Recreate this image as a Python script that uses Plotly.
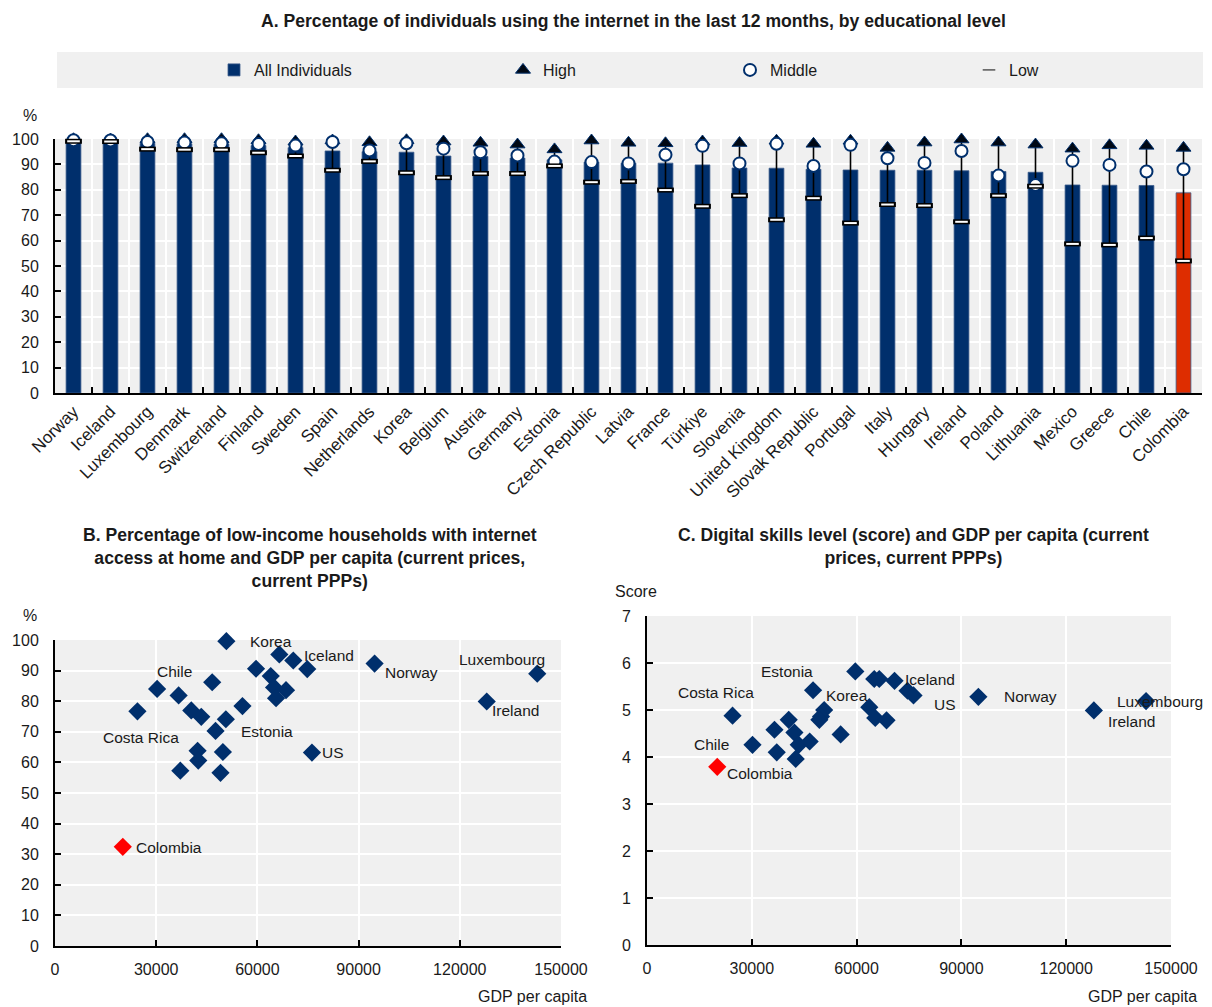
import plotly.graph_objects as go

# ---------------- Data ----------------
countries = ["Norway", "Iceland", "Luxembourg", "Denmark", "Switzerland", "Finland", "Sweden", "Spain",
             "Netherlands", "Korea", "Belgium", "Austria", "Germany", "Estonia", "Czech Republic", "Latvia",
             "France", "Türkiye", "Slovenia", "United Kingdom", "Slovak Republic", "Portugal", "Italy",
             "Hungary", "Ireland", "Poland", "Lithuania", "Mexico", "Greece", "Chile", "Colombia"]
all_individuals = [99.6, 99.3, 98.3, 98.1, 98.0, 97.4, 96.6, 95.3, 95.0, 94.8, 93.3, 93.1, 92.5, 91.8, 90.9,
                   90.5, 90.5, 89.8, 88.6, 88.5, 88.1, 87.8, 87.7, 87.7, 87.5, 87.2, 86.9, 81.9, 81.8, 81.7, 78.8]
high = [99.9, 99.8, 99.9, 99.9, 99.9, 99.5, 99.0, 99.4, 98.7, 99.5, 99.0, 98.5, 97.8, 95.9, 99.4,
        98.5, 98.3, 99.0, 98.4, 99.3, 98.1, 99.3, 96.5, 98.6, 99.8, 98.6, 97.8, 96.2, 97.5, 97.3, 96.5]
middle = [99.5, 99.4, 98.8, 98.6, 98.3, 98.0, 97.4, 98.8, 95.5, 98.3, 96.2, 94.8, 93.5, 91.1, 90.9,
          90.4, 93.8, 97.3, 90.4, 98.1, 89.4, 97.7, 92.4, 90.6, 95.3, 85.6, 81.9, 91.4, 89.8, 87.2, 88.1]
low = [99.1, 99.0, 96.0, 95.8, 95.8, 94.6, 93.3, 87.7, 91.2, 86.7, 84.8, 86.4, 86.4, 89.4, 83.0,
       83.3, 79.9, 73.5, 77.7, 68.2, 76.7, 66.9, 74.2, 73.8, 67.4, 77.7, 81.4, 58.7, 58.3, 61.0, 52.0]

b_gdp = [50800, 66500, 70640, 59600, 74780, 63960, 64940, 68480, 65530, 30270, 36650, 46600, 24440, 40400,
         43360, 50650, 55570, 47590, 42270, 49770, 42470, 37150, 49060, 20100, 94740, 142960, 127980, 76170]
b_internet = [99.6, 95.3, 93.3, 90.6, 90.5, 88.2, 84.5, 83.6, 81.0, 84.0, 81.9, 86.2, 76.7, 77.0,
              74.9, 74.1, 78.4, 70.3, 63.8, 63.4, 60.6, 57.3, 56.6, 32.4, 92.3, 89.0, 79.9, 63.2]
b_names = ["Korea", "", "Iceland", "", "", "", "", "", "", "Chile", "", "", "Costa Rica", "",
           "", "", "", "Estonia", "", "", "", "", "", "Colombia", "Norway", "Luxembourg", "Ireland", "US"]

c_gdp = [59630, 65050, 66490, 70860, 74570, 76290, 47540, 50720, 49830, 49340, 63630, 65340, 68570, 24490,
         40570, 36490, 42200, 55430, 43430, 46570, 30200, 37140, 42570, 20110, 94860, 127920, 142860]
c_score = [5.82, 5.66, 5.66, 5.62, 5.41, 5.31, 5.42, 5.00, 4.86, 4.79, 5.06, 4.83, 4.78, 4.88,
           4.79, 4.58, 4.52, 4.48, 4.26, 4.33, 4.26, 4.10, 3.96, 3.79, 5.28, 4.99, 5.19]
c_names = ["", "", "", "Iceland", "", "US", "Estonia", "Korea", "", "", "", "", "", "Costa Rica",
           "", "", "", "", "", "", "Chile", "", "", "Colombia", "Norway", "Ireland", "Luxembourg"]

y_ticks_a = list(range(0, 101, 10))
x_ticks_gdp = [0, 30000, 60000, 90000, 120000, 150000]
y_ticks_c = list(range(0, 8))

# ---------------- Styles ----------------
FONT = "Liberation Sans, Arial, sans-serif"
NAVY = "#002F6C"
RED_BAR = "#DE2D00"
RED_PT = "#FF0000"
BG = "#F0F0F0"
TXT = "#1a1a1a"
# the page body adds an 8px margin; the figure is sized so the screen matches 1212x1007
OFF = 8
W, H = 1212 - OFF, 1007 - OFF

def px_x(p):
    return (p - OFF) / W

def px_y(p):
    return 1 - (p - OFF) / H

b_label_style = {
    "Korea": ("left", 22, 0), "Iceland": ("left", 9, 5), "Chile": ("left", -2, 17),
    "Costa Rica": ("left", -36, -26), "Estonia": ("left", 23, -1), "Colombia": ("left", 11, -1),
    "Norway": ("left", 8, -9), "Luxembourg": ("right", 10, 14), "Ireland": ("left", 3, -9),
    "US": ("left", 8, 0),
}
c_label_style = {
    "Estonia": ("right", 2, 19), "Korea": ("left", 0, 15), "Iceland": ("left", 8, 1),
    "US": ("left", 18, -9), "Costa Rica": ("right", 23, 23), "Chile": ("right", -22, 0),
    "Colombia": ("left", 8, -7), "Norway": ("left", 24, 0), "Ireland": ("left", 12, -11),
    "Luxembourg": ("right", 59, 0),
}

fig = go.Figure()

# ---------------- Panel A ----------------
bar_colors = [RED_BAR if c == "Colombia" else NAVY for c in countries]
fig.add_trace(go.Bar(x=countries, y=all_individuals, name="All Individuals",
                     marker=dict(color=bar_colors, line=dict(color="#3a5a8a", width=0.8)),
                     width=0.4, legend="legend", xaxis="x", yaxis="y"))

# whiskers low -> high
wx, wy = [], []
for c, lo, hi in zip(countries, low, high):
    wx += [c, c, None]
    wy += [lo, hi, None]
fig.add_trace(go.Scatter(x=wx, y=wy, mode="lines", line=dict(color="black", width=1.6),
                         showlegend=False, cliponaxis=False, hoverinfo="skip", xaxis="x", yaxis="y"))

fig.add_trace(go.Scatter(x=countries, y=high, mode="markers", name="High",
                         marker=dict(symbol="triangle-up", size=13, color="#000814",
                                     line=dict(color=NAVY, width=1)),
                         cliponaxis=False, legend="legend2", xaxis="x", yaxis="y"))
fig.add_trace(go.Scatter(x=countries, y=middle, mode="markers", name="Middle",
                         marker=dict(symbol="circle", size=12, color="white",
                                     line=dict(color=NAVY, width=2)),
                         cliponaxis=False, legend="legend3", xaxis="x", yaxis="y"))
fig.add_trace(go.Scatter(x=countries, y=low, mode="markers", showlegend=False,
                         marker=dict(symbol="line-ew", size=12, line=dict(color="black", width=5)),
                         cliponaxis=False, xaxis="x", yaxis="y"))
fig.add_trace(go.Scatter(x=countries, y=low, mode="markers", showlegend=False,
                         marker=dict(symbol="line-ew", size=9, line=dict(color="white", width=2)),
                         cliponaxis=False, xaxis="x", yaxis="y"))
fig.add_trace(go.Scatter(x=[None], y=[None], mode="markers", name="Low",
                         marker=dict(symbol="line-ew", size=9, line=dict(color="#555555", width=1.5)),
                         legend="legend4", xaxis="x", yaxis="y"))

# ---------------- Panel B ----------------
fig.add_trace(go.Scatter(x=b_gdp, y=b_internet, mode="markers", showlegend=False,
                         marker=dict(symbol="diamond", size=14,
                                     color=[RED_PT if n == "Colombia" else NAVY for n in b_names]),
                         cliponaxis=False, xaxis="x2", yaxis="y2"))
# ---------------- Panel C ----------------
fig.add_trace(go.Scatter(x=c_gdp, y=c_score, mode="markers", showlegend=False,
                         marker=dict(symbol="diamond", size=14,
                                     color=[RED_PT if n == "Colombia" else NAVY for n in c_names]),
                         cliponaxis=False, xaxis="x3", yaxis="y3"))

annotations = []
for xs, ys, names, style, xr, yr in [(b_gdp, b_internet, b_names, b_label_style, "x2", "y2"),
                                     (c_gdp, c_score, c_names, c_label_style, "x3", "y3")]:
    for xv, yv, n in zip(xs, ys, names):
        if not n:
            continue
        anc, dx, dy = style[n]
        annotations.append(dict(x=xv, y=yv, xref=xr, yref=yr, text=n, showarrow=False,
                                xanchor=anc, yanchor="middle", xshift=dx, yshift=dy,
                                font=dict(size=15.5, color=TXT)))

title_font = dict(size=17.6, color=TXT, family=FONT)
annotations += [
    dict(text="<b>A. Percentage of individuals using the internet in the last 12 months, by educational level</b>",
         x=px_x(633), y=px_y(21), xref="paper", yref="paper", showarrow=False,
         xanchor="center", yanchor="middle", font=title_font),
    dict(text="<b>B. Percentage of low-income households with internet<br>access at home and GDP per capita (current prices,<br>current PPPs)</b>",
         x=px_x(310), y=px_y(558), xref="paper", yref="paper", showarrow=False,
         xanchor="center", yanchor="middle", font=title_font),
    dict(text="<b>C. Digital skills level (score) and GDP per capita (current<br>prices, current PPPs)</b>",
         x=px_x(913), y=px_y(546), xref="paper", yref="paper", showarrow=False,
         xanchor="center", yanchor="middle", font=title_font),
    dict(text="%", x=px_x(30), y=px_y(115), xref="paper", yref="paper", showarrow=False,
         xanchor="center", yanchor="middle", font=dict(size=16, color=TXT)),
    dict(text="%", x=px_x(30), y=px_y(615), xref="paper", yref="paper", showarrow=False,
         xanchor="center", yanchor="middle", font=dict(size=16, color=TXT)),
    dict(text="Score", x=px_x(636), y=px_y(591), xref="paper", yref="paper", showarrow=False,
         xanchor="center", yanchor="middle", font=dict(size=16, color=TXT)),
    dict(text="GDP per capita", x=px_x(589), y=px_y(996), xref="paper", yref="paper", showarrow=False,
         xanchor="right", yanchor="middle", font=dict(size=16, color=TXT)),
    dict(text="GDP per capita", x=px_x(1199), y=px_y(996), xref="paper", yref="paper", showarrow=False,
         xanchor="right", yanchor="middle", font=dict(size=16, color=TXT)),
]

axis_common = dict(showline=True, linecolor="black", linewidth=2, ticks="inside", ticklen=6,
                   tickcolor="black", tickwidth=1.5, gridcolor="white", gridwidth=2, zeroline=False,
                   tickfont=dict(size=16, color=TXT), showgrid=True, mirror=False, automargin=False)

legend_common = dict(orientation="h", yanchor="middle", y=px_y(70), xanchor="left",
                     bgcolor="rgba(0,0,0,0)", font=dict(size=16, color=TXT), itemwidth=30)

fig.update_layout(
    width=W, height=H,
    margin=dict(l=0, r=0, t=0, b=0, autoexpand=False),
    paper_bgcolor="white", plot_bgcolor=BG,
    font=dict(family=FONT, color=TXT, size=16),
    xaxis=dict(domain=[px_x(55), px_x(1202)], anchor="y", type="category", tickson="boundaries",
               tickangle=-45, range=[-0.5, len(countries) - 0.5],
               **{**axis_common, "tickfont": dict(size=17, color=TXT)}),
    yaxis=dict(domain=[px_y(393), px_y(139)], anchor="x", range=[0, 100], tickvals=y_ticks_a,
               ticklabelstandoff=11, **axis_common),
    xaxis2=dict(domain=[px_x(55), px_x(561)], anchor="y2", range=[0, 150000], tickvals=x_ticks_gdp,
                tickformat="d", ticklabelstandoff=8, **axis_common),
    yaxis2=dict(domain=[px_y(946), px_y(640)], anchor="x2", range=[0, 100], tickvals=y_ticks_a,
                ticklabelstandoff=11, **axis_common),
    xaxis3=dict(domain=[px_x(647), px_x(1171)], anchor="y3", range=[0, 150000], tickvals=x_ticks_gdp,
                tickformat="d", ticklabelstandoff=8, **axis_common),
    yaxis3=dict(domain=[px_y(945), px_y(616)], anchor="x3", range=[0, 7], tickvals=y_ticks_c,
                ticklabelstandoff=11, **axis_common),
    legend=dict(x=px_x(214), **legend_common),
    legend2=dict(x=px_x(503), **legend_common),
    legend3=dict(x=px_x(730), **legend_common),
    legend4=dict(x=px_x(969), **legend_common),
    shapes=[dict(type="rect", xref="paper", yref="paper", x0=px_x(57), x1=px_x(1203),
                 y0=px_y(88), y1=px_y(52), fillcolor=BG, line=dict(width=0), layer="below")],
    annotations=annotations,
)

fig.write_html("out.html")
